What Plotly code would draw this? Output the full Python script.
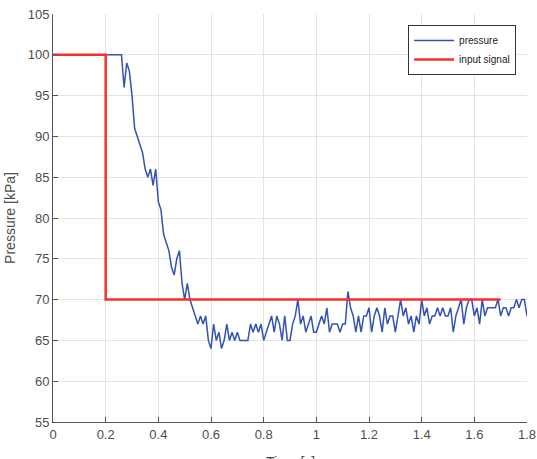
import numpy as np
import plotly.graph_objects as go

DT = 0.01
pressure = [100]*27 + [
    96, 99, 98, 95, 91, 90, 89, 88, 86, 85,   # 0.27-0.36
    86, 84, 86, 82, 81, 78, 77, 76, 74, 73,   # 0.37-0.46
    75, 76, 72, 70, 72, 70, 69, 68, 67, 68,   # 0.47-0.56
    67, 68, 65, 64, 67, 65, 66, 64, 65, 67,   # 0.57-0.66
    65, 66, 65, 66, 65, 65, 65, 65, 67, 66,   # 0.67-0.76
    67, 66, 67, 65, 66, 67, 68, 66, 68, 67,   # 0.77-0.86
    65, 68, 65, 65, 67, 68, 70, 67, 68, 66,   # 0.87-0.96
    67, 68, 66, 66, 67, 68, 67, 69, 66, 67,   # 0.97-1.06
    67, 67, 66, 67, 67, 71, 69, 68, 66, 68,   # 1.07-1.16
    66, 68, 68, 69, 66, 68, 69, 68, 66, 69,   # 1.17-1.26
    67, 68, 68, 66, 68, 70, 68, 69, 67, 68,   # 1.27-1.36
    66, 68, 67, 70, 68, 69, 67, 68, 68, 69,   # 1.37-1.46
    68, 69, 68, 68, 69, 66, 68, 69, 70, 67,   # 1.47-1.56
    69, 70, 70, 68, 69, 67, 70, 68, 69, 69,   # 1.57-1.66
    69, 69, 70, 68, 69, 69, 68, 69, 69, 70,   # 1.67-1.76
    69, 70, 70, 68,                           # 1.77-1.80
]
time = np.round(np.arange(len(pressure)) * DT, 2)

signal_t = [0, 0.2, 0.2, 1.7]
signal_p = [100, 100, 70, 70]

x_ticks = [0, 0.2, 0.4, 0.6, 0.8, 1, 1.2, 1.4, 1.6, 1.8]
x_ticklabels = ["0", "0.2", "0.4", "0.6", "0.8", "1", "1.2", "1.4", "1.6", "1.8"]
y_ticks = [55, 60, 65, 70, 75, 80, 85, 90, 95, 100, 105]

fig = go.Figure()
fig.add_trace(go.Scatter(x=time, y=pressure, mode="lines", name="pressure",
                         line=dict(color="#3352b5", width=1.5)))
fig.add_trace(go.Scatter(x=signal_t, y=signal_p, mode="lines", name="input signal",
                         line=dict(color="#ff2a2a", width=2.5)))

font = "Liberation Sans, Arial, sans-serif"
fig.update_layout(
    width=537, height=459,
    margin=dict(l=53, r=10, t=14, b=37, autoexpand=False),
    paper_bgcolor="white", plot_bgcolor="white",
    font=dict(family=font, size=13, color="#4d4d4d"),
    showlegend=True,
    legend=dict(x=0.977, y=0.973, xanchor="right", yanchor="top",
                bordercolor="#333333", borderwidth=1, bgcolor="white",
                font=dict(size=10, color="#222222"),
                tracegroupgap=0, itemwidth=40),
    xaxis=dict(range=[0, 1.8], tickvals=x_ticks, ticktext=x_ticklabels,
               showgrid=True, gridcolor="#e3e3e3", gridwidth=1,
               showline=True, linecolor="#555555", linewidth=1,
               ticks="inside", ticklen=5, tickcolor="#555555",
               zeroline=False, mirror=False, automargin=False),
    yaxis=dict(range=[55, 105], tickvals=y_ticks, automargin=False,
               showgrid=True, gridcolor="#e3e3e3", gridwidth=1,
               showline=True, linecolor="#555555", linewidth=1,
               ticks="inside", ticklen=5, tickcolor="#555555",
               zeroline=False, mirror=False,
               title=dict(text="Pressure [kPa]", font=dict(size=14, color="#4d4d4d"), standoff=8)),
)
fig.add_annotation(text="Time [s]", xref="paper", yref="paper", x=0.5, y=0,
                   xanchor="center", yanchor="top", yshift=-30, showarrow=False,
                   font=dict(size=14, color="#4d4d4d"))
fig.write_html("out.html")
